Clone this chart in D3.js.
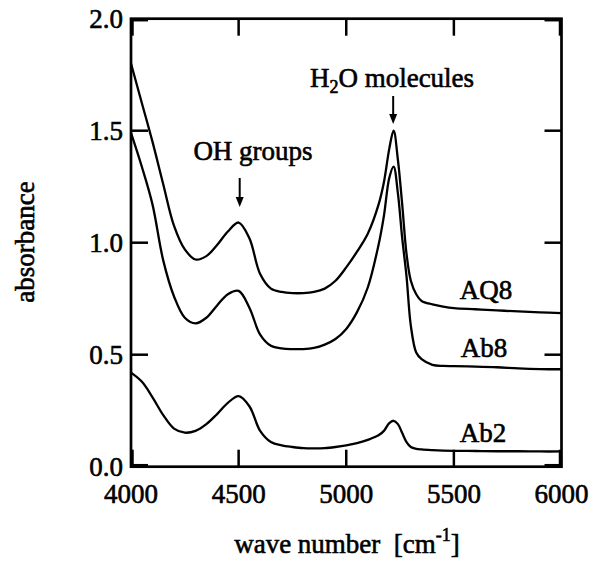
<!DOCTYPE html>
<html>
<head>
<meta charset="utf-8">
<script src="https://cdn.jsdelivr.net/npm/d3@7"></script>
<style>
  html, body { margin: 0; padding: 0; background: #fff; }
</style>
</head>
<body>
<svg id="chart" width="589" height="561" font-family="Liberation Serif, serif"></svg>
<script>
// Wave numbers (cm^-1) at which the absorbance spectra are sampled
const waveNumbers = [4000, 4050, 4100, 4150, 4200, 4250, 4300, 4350, 4400, 4450, 4500, 4550,
  4600, 4650, 4700, 4750, 4800, 4850, 4900, 4950, 5000, 5050, 5100, 5150, 5175, 5200, 5220,
  5240, 5260, 5280, 5300, 5325, 5350, 5400, 5450, 5500, 5600, 5700, 5800, 5900, 6000];

// Absorbance of each sample
const aq8 = [1.80, 1.625, 1.45, 1.26, 1.075, 0.97, 0.925, 0.94, 0.99, 1.05, 1.09, 1.02,
  0.86, 0.795, 0.78, 0.775, 0.775, 0.78, 0.795, 0.83, 0.89, 0.96, 1.04, 1.17, 1.27, 1.42, 1.50,
  1.37, 1.17, 0.95, 0.83, 0.77, 0.74, 0.725, 0.715, 0.708, 0.703, 0.698, 0.693, 0.689, 0.686];
const ab8 = [1.49, 1.34, 1.17, 0.92, 0.76, 0.665, 0.64, 0.665, 0.72, 0.77, 0.785, 0.71,
  0.59, 0.54, 0.528, 0.525, 0.525, 0.53, 0.545, 0.57, 0.615, 0.69, 0.80, 0.99, 1.12, 1.29, 1.34,
  1.22, 1.02, 0.85, 0.63, 0.51, 0.48, 0.455, 0.45, 0.449, 0.447, 0.444, 0.439, 0.436, 0.435];
const ab2 = [0.42, 0.38, 0.31, 0.23, 0.17, 0.152, 0.16, 0.19, 0.235, 0.285, 0.315, 0.27,
  0.16, 0.11, 0.095, 0.088, 0.083, 0.082, 0.083, 0.088, 0.095, 0.105, 0.12, 0.14, 0.16, 0.195, 0.205,
  0.19, 0.15, 0.11, 0.088, 0.08, 0.077, 0.074, 0.072, 0.071, 0.07, 0.069, 0.069, 0.068, 0.068];

const seriesNames = ["AQ8", "Ab8", "Ab2"];
const seriesValues = [aq8, ab8, ab2];

const xTicks = [4000, 4500, 5000, 5500, 6000];
const yTicks = [0.0, 0.5, 1.0, 1.5, 2.0];

// Annotated bands: label, wave number of the arrow
const bandLabels = ["OH groups", "H2O molecules"];
const bandPositions = [4505, 5218];

const svg = d3.select("#chart");
const W = 589, H = 561;
const FONT = "Liberation Serif, serif";
const plot = { left: 131, right: 561.5, top: 18.7, bottom: 466.7 };

const x = d3.scaleLinear().domain([4000, 6000]).range([plot.left, plot.right]);
const y = d3.scaleLinear().domain([0, 2]).range([plot.bottom, plot.top]);

svg.append("rect").attr("width", W).attr("height", H).attr("fill", "#fff");

const fontSize = 27;
const tickLen = 17;

// Spectra
const line = d3.line()
  .x(d => x(d[0]))
  .y(d => y(d[1]))
  .curve(d3.curveCatmullRom.alpha(0.5));

seriesValues.forEach(vals => {
  svg.append("path")
    .datum(waveNumbers.map((w, i) => [w, vals[i]]))
    .attr("fill", "none")
    .attr("stroke", "#000")
    .attr("stroke-width", 2.3)
    .attr("stroke-linejoin", "round")
    .attr("d", line);
});

// Ticks (inward, on all four sides); end ticks sit just inside the frame
const tk = svg.append("g").attr("stroke", "#000").attr("stroke-width", 2.5);
const clampX = v => Math.min(Math.max(x(v), plot.left + 1.5), plot.right - 1.5);
const clampY = v => Math.min(Math.max(y(v), plot.top + 1.5), plot.bottom - 1.5);
xTicks.forEach(v => {
  const px = clampX(v);
  tk.append("line").attr("x1", px).attr("x2", px).attr("y1", plot.bottom).attr("y2", plot.bottom - tickLen);
  tk.append("line").attr("x1", px).attr("x2", px).attr("y1", plot.top).attr("y2", plot.top + tickLen);
});
yTicks.forEach(v => {
  const py = clampY(v);
  tk.append("line").attr("x1", plot.left).attr("x2", plot.left + tickLen).attr("y1", py).attr("y2", py);
  tk.append("line").attr("x1", plot.right).attr("x2", plot.right - tickLen).attr("y1", py).attr("y2", py);
});

// Frame
svg.append("rect")
  .attr("x", plot.left).attr("y", plot.top)
  .attr("width", plot.right - plot.left).attr("height", plot.bottom - plot.top)
  .attr("fill", "none").attr("stroke", "#000").attr("stroke-width", 2.7);

// Heavy serif text: a thin outline thickens the glyphs
const txt = sel => sel.attr("font-family", FONT).attr("font-size", fontSize)
  .attr("fill", "#000").attr("stroke", "#000").attr("stroke-width", 0.6)
  .style("white-space", "pre");

// Tick labels
svg.append("g").selectAll("text").data(xTicks).join("text")
  .call(txt)
  .attr("x", d => x(d)).attr("y", 503)
  .attr("text-anchor", "middle")
  .text(d => d);

svg.append("g").selectAll("text").data(yTicks).join("text")
  .call(txt)
  .attr("x", plot.left - 8).attr("y", d => y(d)).attr("dy", "0.35em")
  .attr("text-anchor", "end")
  .text(d => d.toFixed(1));

// Axis titles
const xt = svg.append("text").call(txt)
  .attr("x", 347).attr("y", 553).attr("text-anchor", "middle");
xt.append("tspan").text("wave number  [cm");
xt.append("tspan").attr("font-size", 18).attr("dy", -12).text("-1");
xt.append("tspan").attr("dy", 12).text("]");

svg.append("text").call(txt)
  .attr("transform", "translate(34,242) rotate(-90)")
  .attr("text-anchor", "middle")
  .text("absorbance");

// Series labels
const labelPos = [[486, 299], [484, 357], [483, 442]];
seriesNames.forEach((n, i) => {
  svg.append("text").call(txt)
    .attr("x", labelPos[i][0]).attr("y", labelPos[i][1])
    .attr("text-anchor", "middle")
    .text(n);
});

// Band annotations with arrows
svg.append("text").call(txt).attr("x", 253).attr("y", 160)
  .attr("text-anchor", "middle").text(bandLabels[0]);
const t2 = svg.append("text").call(txt).attr("x", 392).attr("y", 87)
  .attr("text-anchor", "middle");
t2.append("tspan").text("H");
t2.append("tspan").attr("font-size", 18).attr("dy", 6).text("2");
t2.append("tspan").attr("dy", -6).text("O molecules");

const arrows = [[178, 207], [96, 124]];
bandPositions.forEach((w, i) => {
  const ax = x(w);
  const [y0, y1] = arrows[i];
  svg.append("line").attr("x1", ax).attr("x2", ax).attr("y1", y0).attr("y2", y1 - 8)
    .attr("stroke", "#000").attr("stroke-width", 2);
  svg.append("path")
    .attr("d", `M${ax - 4},${y1 - 10} L${ax + 4},${y1 - 10} L${ax},${y1} Z`)
    .attr("fill", "#000");
});
</script>
</body>
</html>
